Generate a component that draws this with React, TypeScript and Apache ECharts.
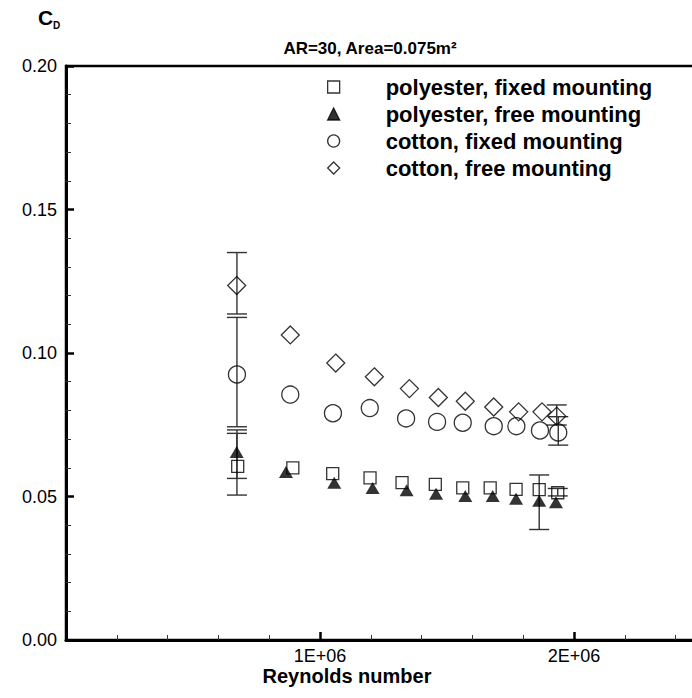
import React, { useEffect, useRef } from 'react';
import * as echarts from 'echarts';

const FONT = '"Liberation Sans", Arial, Helvetica, sans-serif';

// Series names
const seriesNames = [
  'polyester, fixed mounting',
  'polyester, free mounting',
  'cotton, fixed mounting',
  'cotton, free mounting',
];

// Reynolds numbers in millions
const polyFixedRe = [0.676, 0.893, 1.05, 1.197, 1.323, 1.454, 1.562, 1.67, 1.772, 1.863, 1.936];
const polyFixedCd = [0.0605, 0.06, 0.058, 0.0565, 0.0548, 0.0542, 0.053, 0.053, 0.0525, 0.0524, 0.0513];

const polyFreeRe = [0.672, 0.866, 1.056, 1.207, 1.341, 1.457, 1.572, 1.68, 1.772, 1.863, 1.929];
const polyFreeCd = [0.0655, 0.0585, 0.0548, 0.053, 0.0522, 0.051, 0.0502, 0.0502, 0.0492, 0.0485, 0.048];

const cottonFixedRe = [0.673, 0.883, 1.051, 1.196, 1.339, 1.461, 1.562, 1.684, 1.773, 1.866, 1.938];
const cottonFixedCd = [0.0925, 0.0855, 0.079, 0.0808, 0.0772, 0.076, 0.0757, 0.0745, 0.0745, 0.073, 0.0723];

const cottonFreeRe = [0.672, 0.883, 1.062, 1.214, 1.352, 1.466, 1.572, 1.684, 1.782, 1.874, 1.932];
const cottonFreeCd = [0.1235, 0.1063, 0.0965, 0.0917, 0.0876, 0.0845, 0.0832, 0.0812, 0.0795, 0.0795, 0.078];

// Error bars: Reynolds (millions), low, high
const errRe = [0.673, 0.673, 0.673, 0.673, 1.863, 1.936, 1.932, 1.938];
const errLow = [0.0563, 0.0505, 0.0743, 0.1136, 0.0385, 0.0502, 0.0749, 0.0679];
const errHigh = [0.072, 0.0732, 0.1124, 0.135, 0.0575, 0.0528, 0.0819, 0.0778];

// Axis ticks
const xTickValues = [1, 2];
const xTickLabels = ['1E+06', '2E+06'];

const toPoints = (re: number[], cd: number[]) => re.map((r, i) => [r * 1e6, cd[i]]);

export default function App() {
  const ref = useRef<HTMLDivElement>(null);

  useEffect(() => {
    if (!ref.current) return;
    const chart = echarts.init(ref.current, undefined, { renderer: 'svg' });

    const hollow = {
      color: 'rgba(0,0,0,0)',
      borderColor: '#000',
      borderWidth: 1.3,
    };

    const CAP = 10;

    const option: any = {
      animation: false,
      backgroundColor: '#fff',
      title: {
        text: 'AR=30, Area=0.075m²',
        left: 365,
        top: 35,
        textAlign: 'center',
        textStyle: { fontFamily: FONT, fontSize: 17, fontWeight: 'bold', color: '#000' },
      },
      legend: {
        orient: 'vertical',
        left: 327,
        top: 75,
        padding: 0,
        itemWidth: 12,
        itemHeight: 12,
        itemGap: 3,
        selectedMode: false,
        itemStyle: { borderWidth: 1.3 },
        textStyle: {
          fontFamily: FONT,
          fontSize: 22,
          fontWeight: 'bold',
          color: '#000',
          lineHeight: 24,
          padding: [0, 0, 0, 41],
        },
        data: [
          { name: seriesNames[0], icon: 'rect' },
          { name: seriesNames[1], icon: 'triangle' },
          { name: seriesNames[2], icon: 'circle' },
          { name: seriesNames[3], icon: 'diamond' },
        ],
      },
      grid: {
        left: 66,
        top: 66,
        right: 12,
        bottom: 58,
        show: true,
        borderColor: '#000',
        borderWidth: 2.5,
        backgroundColor: 'transparent',
      },
      xAxis: {
        type: 'value',
        min: 0,
        max: 3e6,
        interval: 1e6,
        axisLine: { show: true, lineStyle: { color: '#000', width: 3 } },
        axisTick: { show: true, inside: true, length: 8, lineStyle: { color: '#000', width: 2.5 } },
        minorTick: { show: true, splitNumber: 5, length: 5, lineStyle: { color: '#333', width: 1 } },
        splitLine: { show: false },
        minorSplitLine: { show: false },
        axisLabel: {
          fontFamily: FONT,
          fontSize: 18,
          color: '#000',
          margin: 7,
          formatter: (v: number) => {
            const i = xTickValues.indexOf(Math.round((v / 1e6) * 1000) / 1000);
            return i >= 0 ? xTickLabels[i] : '';
          },
        },
      },
      yAxis: {
        type: 'value',
        min: 0,
        max: 0.2,
        interval: 0.05,
        axisLine: { show: true, lineStyle: { color: '#000', width: 3 } },
        axisTick: { show: true, inside: true, length: 8, lineStyle: { color: '#000', width: 2.5 } },
        minorTick: { show: true, splitNumber: 5, length: 5, lineStyle: { color: '#333', width: 1 } },
        splitLine: { show: false },
        axisLabel: {
          fontFamily: FONT,
          fontSize: 18,
          color: '#000',
          margin: 9,
          formatter: (v: number) => v.toFixed(2),
        },
      },
      graphic: [
        {
          type: 'text',
          x: 38,
          y: 7,
          style: { text: 'C', fontFamily: FONT, fontSize: 21, fontWeight: 'bold', fill: '#000' },
        },
        {
          type: 'text',
          x: 53,
          y: 20,
          style: { text: 'D', fontFamily: FONT, fontSize: 10, fontWeight: 'bold', fill: '#000' },
        },
        {
          type: 'text',
          x: 347,
          y: 676,
          style: {
            text: 'Reynolds number',
            fontFamily: FONT,
            fontSize: 20,
            fontWeight: 'bold',
            fill: '#000',
            align: 'center',
            verticalAlign: 'middle',
            textAlign: 'center',
            textVerticalAlign: 'middle',
          },
        },
      ],
      series: [
        {
          type: 'custom',
          name: 'error bars',
          z: 1,
          data: errRe.map((r, i) => [r * 1e6, errLow[i], errHigh[i]]),
          encode: { x: 0, y: [1, 2] },
          renderItem: (params: any, api: any) => {
            const x = api.value(0);
            const a = api.coord([x, api.value(2)]);
            const b = api.coord([x, api.value(1)]);
            const style = { stroke: '#333', lineWidth: 1.4 };
            return {
              type: 'group',
              children: [
                { type: 'line', shape: { x1: a[0], y1: a[1], x2: b[0], y2: b[1] }, style },
                { type: 'line', shape: { x1: a[0] - CAP, y1: a[1], x2: a[0] + CAP, y2: a[1] }, style },
                { type: 'line', shape: { x1: b[0] - CAP, y1: b[1], x2: b[0] + CAP, y2: b[1] }, style },
              ],
            };
          },
        },
        {
          type: 'scatter',
          name: seriesNames[0],
          z: 2,
          symbol: 'rect',
          symbolSize: 12,
          itemStyle: hollow,
          data: toPoints(polyFixedRe, polyFixedCd),
        },
        {
          type: 'scatter',
          name: seriesNames[1],
          z: 3,
          symbol: 'triangle',
          symbolSize: [14, 12],
          itemStyle: { color: '#000', borderColor: '#000', borderWidth: 0 },
          data: toPoints(polyFreeRe, polyFreeCd),
        },
        {
          type: 'scatter',
          name: seriesNames[2],
          z: 4,
          symbol: 'circle',
          symbolSize: 17,
          itemStyle: hollow,
          data: toPoints(cottonFixedRe, cottonFixedCd),
        },
        {
          type: 'scatter',
          name: seriesNames[3],
          z: 5,
          symbol: 'diamond',
          symbolSize: 18,
          itemStyle: hollow,
          data: toPoints(cottonFreeRe, cottonFreeCd),
        },
      ],
    };

    chart.setOption(option);
    return () => chart.dispose();
  }, []);

  return (
    <div
      style={{
        position: 'absolute',
        left: 0,
        top: 0,
        width: 692,
        height: 698,
        overflow: 'hidden',
        background: '#fff',
      }}
    >
      <div ref={ref} style={{ width: 840, height: 698 }} />
    </div>
  );
}
